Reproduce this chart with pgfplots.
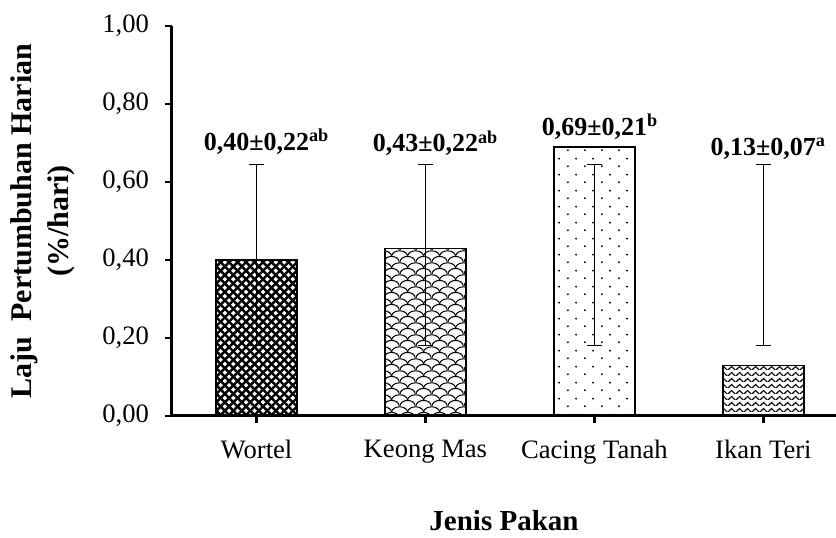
\documentclass[border=0pt]{standalone}
\usepackage{fontspec}
\setmainfont{Liberation Serif}
\usepackage{pgfplots}
\pgfplotsset{compat=1.18}
\usetikzlibrary{patterns.meta}

\tikzdeclarepattern{name=darkcross, type=uncolored,
  bottom left={(-0.1pt,-0.1pt)}, top right={(3.1pt,3.1pt)},
  tile size={(3pt,3pt)}, tile transformation={rotate=45},
  code={\draw[line width=1.2pt] (-0.1pt,1.5pt)--(3.1pt,1.5pt);
        \draw[line width=1.2pt] (1.5pt,-0.1pt)--(1.5pt,3.1pt);}}
\tikzdeclarepattern{name=scales, type=uncolored,
  bottom left={(0pt,0pt)}, top right={(8pt,6pt)},
  tile size={(8pt,6pt)},
  code={\draw[line width=0.55pt] (0pt,0pt) arc[start angle=180,end angle=0,x radius=4pt,y radius=3pt];
        \draw[line width=0.55pt] (-4pt,3pt) arc[start angle=180,end angle=0,x radius=4pt,y radius=3pt];
        \draw[line width=0.55pt] (4pt,3pt) arc[start angle=180,end angle=0,x radius=4pt,y radius=3pt];}}
\tikzdeclarepattern{name=sparsedots, type=uncolored,
  bottom left={(0pt,0pt)}, top right={(8.3pt,8pt)},
  tile size={(8.3pt,8pt)},
  code={\fill (2pt,2pt) circle[radius=0.55pt];
        \fill (6.15pt,6pt) circle[radius=0.55pt];}}
\tikzdeclarepattern{name=zigzag, type=uncolored,
  bottom left={(0pt,0pt)}, top right={(4pt,3pt)},
  tile size={(4pt,3pt)},
  code={\draw[line width=0.65pt] (-0.3pt,-0.3pt)--(2pt,2pt)--(4.3pt,-0.3pt);}}

\begin{document}
\begin{tikzpicture}
\begin{axis}[name=ax,
  scale only axis, width=332pt, height=195pt,
  xmin=-0.5, xmax=3.43, ymin=0, ymax=1,
  axis x line=bottom, axis y line=left,
  axis line style={-, line width=1.5pt},
  xtick={0,1,2,3},
  xticklabels={Wortel,Keong Mas,Cacing Tanah,Ikan Teri},
  ytick={0,0.2,0.4,0.6,0.8,1},
  tick align=outside,
  tick style={line width=1.4pt, black},
  major tick length=3.5pt,
  /pgf/number format/fixed,
  /pgf/number format/fixed zerofill,
  /pgf/number format/precision=2,
  /pgf/number format/use comma,
  /pgf/number format/assume math mode=true,
  ticklabel style={font=\fontsize{13.3}{15}\selectfont},
  yticklabel style={xshift=-4.5pt},
  xticklabel style={yshift=-5pt},
  xlabel={Jenis Pakan},
  xlabel style={font=\bfseries\fontsize{14.5}{17}\selectfont, at={(axis description cs:0.5,0)}, anchor=center, yshift=-52.5pt},
  ylabel={Laju\ \ Pertumbuhan Harian\\(\%/hari)},
  ylabel style={font=\bfseries\fontsize{15}{18.5}\selectfont, align=center, at={(axis description cs:-0.194,0.5)}, anchor=center},
  clip=false,
]
\addplot[ybar, bar shift=0pt, bar width=40.5pt, draw=black, line width=0.75pt, pattern=darkcross, pattern color=black] coordinates {(0,0.40)};
\addplot[ybar, bar shift=0pt, bar width=40.5pt, draw=black, line width=0.75pt, pattern=scales, pattern color=black] coordinates {(1,0.43)};
\addplot[ybar, bar shift=0pt, bar width=40.5pt, draw=black, line width=0.75pt, pattern=sparsedots, pattern color=black] coordinates {(2,0.69)};
\addplot[ybar, bar shift=0pt, bar width=40.5pt, draw=black, line width=0.75pt, pattern=zigzag, pattern color=black] coordinates {(3,0.13)};
\addplot[draw=none, mark=none,
  error bars/.cd, y dir=both, y explicit,
  error bar style={draw=black, line width=0.6pt, solid},
  error mark options={rotate=90, mark size=3.75pt, line width=0.6pt, draw=black, solid}]
  coordinates {(0,0.4125) +- (0,0.2325) (1,0.4125) +- (0,0.2325) (2,0.4125) +- (0,0.2325) (3,0.4125) +- (0,0.2325)};
\node[anchor=base, font=\bfseries\fontsize{13}{15}\selectfont] at (axis cs:0,0.682) {0,40±0,22\rlap{\textsuperscript{ab}}};
\node[anchor=base, font=\bfseries\fontsize{13}{15}\selectfont] at (axis cs:1,0.677) {0,43±0,22\rlap{\textsuperscript{ab}}};
\node[anchor=base, font=\bfseries\fontsize{13}{15}\selectfont] at (axis cs:2,0.720) {0,69±0,21\rlap{\textsuperscript{b}}};
\node[anchor=base, font=\bfseries\fontsize{13}{15}\selectfont] at (axis cs:3,0.669) {0,13±0,07\rlap{\textsuperscript{a}}};
\end{axis}
\pgfresetboundingbox
\path[use as bounding box] ([shift={(-86pt,-61pt)}]ax.south west) rectangle ([shift={(0pt,13pt)}]ax.north east);
\end{tikzpicture}
\end{document}
